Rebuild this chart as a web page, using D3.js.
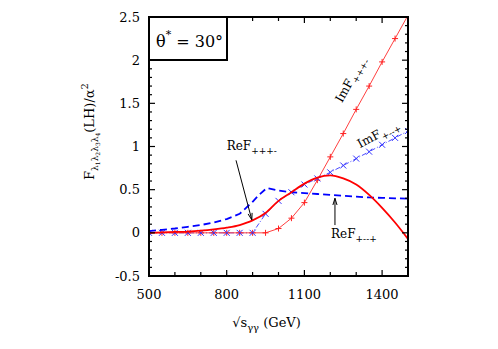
<!DOCTYPE html>
<html>
<head>
<meta charset="utf-8">
<script src="https://cdn.jsdelivr.net/npm/d3@7"></script>
<style>
  body { margin: 0; background: #fff; }
  svg text { font-family: "DejaVu Serif", "Liberation Serif", serif; fill: #000; }
</style>
</head>
<body>
<div id="chart"></div>
<script>
// Data
const xTicks = [500, 800, 1100, 1400];
const yTicks = [-0.5, 0, 0.5, 1, 1.5, 2, 2.5];
const yTickLabels = ["-0.5", "0", "0.5", "1", "1.5", "2", "2.5"];

// ImF+++- (thin red, + markers)
const imPPPM = [[500,0],[550,0],[600,0],[650,0],[700,0],[750,0],[800,0],[850,0],[900,0],[950,0],
  [1000,0.05],[1050,0.17],[1100,0.35],[1150,0.61],[1200,0.88],[1250,1.15],[1300,1.43],
  [1350,1.70],[1400,1.98],[1450,2.25],[1500,2.52]];
// ImF+--+ (thin blue dash-dot, x markers)
const imPMMP = [[500,0],[550,0],[600,0],[650,0],[700,0],[750,0],[800,0],[850,0],[900,0],
  [950,0.22],[1000,0.37],[1050,0.47],[1100,0.56],[1150,0.63],[1200,0.70],[1250,0.78],
  [1300,0.86],[1350,0.94],[1400,1.02],[1450,1.10],[1500,1.18]];
// ReF+++- (thick red solid)
const rePPPM = [[500,0],[550,0.005],[600,0.01],[650,0.015],[700,0.025],[750,0.04],[800,0.06],
  [850,0.09],[875,0.115],[900,0.145],[950,0.23],[1000,0.37],[1050,0.47],[1100,0.57],[1150,0.64],
  [1200,0.665],[1250,0.63],[1300,0.56],[1350,0.44],[1400,0.29],[1450,0.12],[1500,-0.07]];
// ReF+--+ (thick blue dashed)
const rePMMP = [[500,0.02],[550,0.035],[600,0.05],[650,0.07],[700,0.09],[750,0.12],[800,0.16],
  [850,0.22],[875,0.29],[900,0.36],[925,0.44],[955,0.52],[1000,0.49],[1050,0.47],[1100,0.46],
  [1150,0.45],[1200,0.44],[1250,0.43],[1300,0.42],[1350,0.41],[1400,0.405],[1450,0.40],[1500,0.395]];

const width = 498, height = 349;
const margin = { left: 149, top: 17, right: 90, bottom: 73 };
const iw = width - margin.left - margin.right;
const ih = height - margin.top - margin.bottom;

const svg = d3.select("#chart").append("svg")
  .attr("width", width)
  .attr("height", height);

const g = svg.append("g").attr("transform", `translate(${margin.left},${margin.top})`);

const x = d3.scaleLinear().domain([500, 1500]).range([0, iw]);
const y = d3.scaleLinear().domain([-0.5, 2.5]).range([ih, 0]);

svg.append("defs").append("clipPath").attr("id", "clip")
  .append("rect").attr("width", iw).attr("height", ih);

const line = d3.line().x(d => x(d[0])).y(d => y(d[1]));
const curve = d3.line().x(d => x(d[0])).y(d => y(d[1])).curve(d3.curveMonotoneX);

const plot = g.append("g").attr("clip-path", "url(#clip)");

// thin lines
plot.append("path").datum(imPMMP)
  .attr("d", line).attr("fill", "none")
  .attr("stroke", "#4a4aff").attr("stroke-width", 1)
  .attr("stroke-dasharray", "5,2,1,2");
plot.append("path").datum(imPPPM)
  .attr("d", line).attr("fill", "none")
  .attr("stroke", "#ff4040").attr("stroke-width", 1);

// markers
const ms = 3;
plot.append("g").selectAll("path").data(imPPPM).join("path")
  .attr("d", d => `M${x(d[0]) - ms},${y(d[1])}h${2 * ms}M${x(d[0])},${y(d[1]) - ms}v${2 * ms}`)
  .attr("stroke", "#ff2020").attr("stroke-width", 1);
plot.append("g").selectAll("path").data(imPMMP).join("path")
  .attr("d", d => `M${x(d[0]) - ms},${y(d[1]) - ms}l${2 * ms},${2 * ms}M${x(d[0]) - ms},${y(d[1]) + ms}l${2 * ms},${-2 * ms}`)
  .attr("stroke", "#3030ff").attr("stroke-width", 1);

// thick lines
plot.append("path").datum(rePMMP)
  .attr("d", line).attr("fill", "none")
  .attr("stroke", "#0000ff").attr("stroke-width", 1.8)
  .attr("stroke-dasharray", "7,4");
plot.append("path").datum(rePPPM)
  .attr("d", curve).attr("fill", "none")
  .attr("stroke", "#ff0000").attr("stroke-width", 1.8);

// ticks (inward) on all four sides
const tk = g.append("g").attr("stroke", "#000").attr("stroke-width", 1.2);
d3.range(500, 1501, 100).forEach(v => {
  const len = xTicks.includes(v) ? 6 : 4;
  tk.append("line").attr("x1", x(v)).attr("x2", x(v)).attr("y1", ih).attr("y2", ih - len);
  tk.append("line").attr("x1", x(v)).attr("x2", x(v)).attr("y1", 0).attr("y2", len);
});
d3.range(-5, 26, 1).forEach(i => {
  const v = i / 10;
  const len = i % 5 === 0 ? 6 : 3;
  tk.append("line").attr("x1", 0).attr("x2", len).attr("y1", y(v)).attr("y2", y(v));
  tk.append("line").attr("x1", iw).attr("x2", iw - len).attr("y1", y(v)).attr("y2", y(v));
});

// frame
g.append("rect").attr("width", iw).attr("height", ih)
  .attr("fill", "none").attr("stroke", "#000").attr("stroke-width", 2);

// tick labels
g.append("g").selectAll("text").data(xTicks).join("text")
  .attr("x", d => x(d)).attr("y", ih + 23)
  .attr("text-anchor", "middle").attr("font-size", 13)
  .text(d => d);
g.append("g").selectAll("text").data(yTicks).join("text")
  .attr("x", -9).attr("y", d => y(d)).attr("dy", "0.35em")
  .attr("text-anchor", "end").attr("font-size", 13)
  .text((d, i) => yTickLabels[i]);

// axis titles
const xl = g.append("text")
  .attr("x", iw / 2 - 12).attr("y", ih + 51)
  .attr("text-anchor", "middle").attr("font-size", 13);
xl.append("tspan").text("\u221As");
xl.append("tspan").attr("font-size", 10).attr("dy", 4).text("\u03B3\u03B3");
xl.append("tspan").attr("dy", -4).text(" (GeV)");

const yl = g.append("text")
  .attr("transform", `translate(-55,${ih / 2 - 15}) rotate(-90)`)
  .attr("text-anchor", "middle").attr("font-size", 13);
yl.append("tspan").text("F");
yl.append("tspan").attr("font-size", 9).attr("dy", 4).text("\u03BB");
yl.append("tspan").attr("font-size", 6).attr("dy", 2).text("1");
yl.append("tspan").attr("font-size", 9).attr("dy", -2).text("\u03BB");
yl.append("tspan").attr("font-size", 6).attr("dy", 2).text("2");
yl.append("tspan").attr("font-size", 9).attr("dy", -2).text("\u03BB");
yl.append("tspan").attr("font-size", 6).attr("dy", 2).text("3");
yl.append("tspan").attr("font-size", 9).attr("dy", -2).text("\u03BB");
yl.append("tspan").attr("font-size", 6).attr("dy", 2).text("4");
yl.append("tspan").attr("dy", -6).text("(LH)/\u03B1");
yl.append("tspan").attr("font-size", 10).attr("dy", -6).text("2");

// theta box
g.append("rect").attr("x", 0).attr("y", 0).attr("width", 78).attr("height", 43)
  .attr("fill", "#fff").attr("stroke", "#000").attr("stroke-width", 2);
const th = g.append("text").attr("x", 7).attr("y", 30).attr("font-size", 16);
th.append("tspan").text("\u03B8");
th.append("tspan").attr("font-size", 11).attr("dy", -9).text("*");
th.append("tspan").attr("dy", 9).text(" = 30\u00B0");

// annotations
function label(px, py, main, sub, rot) {
  const t = g.append("text")
    .attr("transform", `translate(${px},${py}) rotate(${rot || 0})`)
    .attr("font-size", 12);
  t.append("tspan").text(main);
  t.append("tspan").attr("font-size", 9).attr("dy", 4).text(sub);
  return t;
}
function arrow(x1, y1, x2, y2) {
  const a = Math.atan2(y2 - y1, x2 - x1);
  const h = 7, w = 0.3;
  g.append("path")
    .attr("d", `M${x1},${y1}L${x2},${y2}` +
      `M${x2 - h * Math.cos(a - w)},${y2 - h * Math.sin(a - w)}L${x2},${y2}` +
      `L${x2 - h * Math.cos(a + w)},${y2 - h * Math.sin(a + w)}`)
    .attr("fill", "none").attr("stroke", "#000").attr("stroke-width", 1);
}

label(x(800), y(0.96), "ReF", "+++-");
arrow(x(836), y(0.84), x(897), y(0.15));

label(x(1203), y(-0.06), "ReF", "+--+");
arrow(x(1218), y(0.09), x(1218), y(0.40));

label(x(1245), y(1.50), "ImF", "+++-", -61);
label(x(1315), y(0.98), "ImF", "+--+", -28);
</script>
</body>
</html>
